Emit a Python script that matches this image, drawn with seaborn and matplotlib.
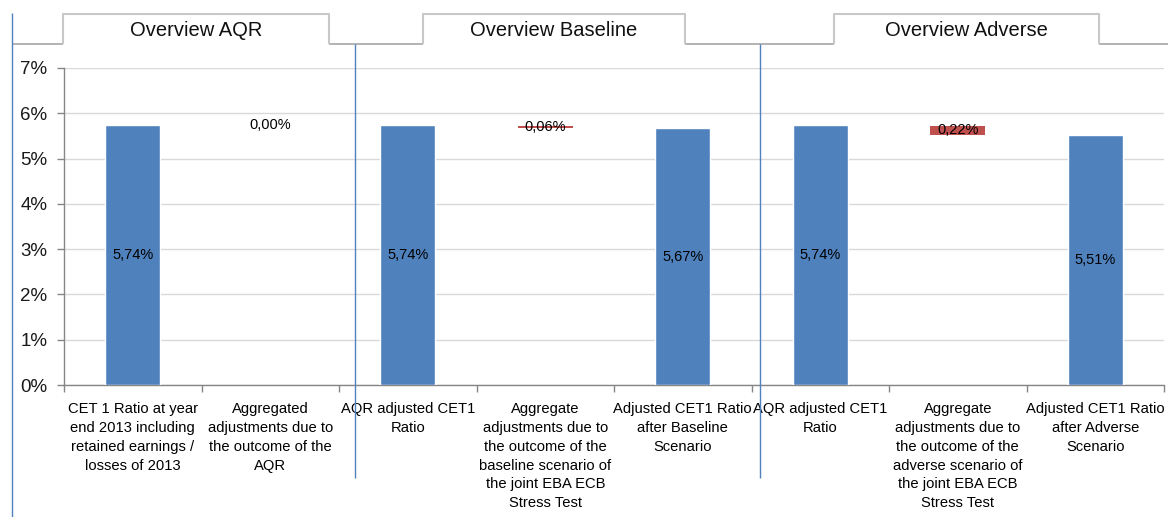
import matplotlib
matplotlib.use("Agg")
import matplotlib.pyplot as plt
from matplotlib.lines import Line2D
import numpy as np
import pandas as pd
import seaborn as sns

# ---- data -------------------------------------------------------------
categories = [
    "CET 1 Ratio at year\nend 2013 including\nretained earnings /\nlosses of 2013",
    "Aggregated\nadjustments due to\nthe outcome of the\nAQR",
    "AQR adjusted CET1\nRatio",
    "Aggregate\nadjustments due to\nthe outcome of the\nbaseline scenario of\nthe joint EBA ECB\nStress Test",
    "Adjusted CET1 Ratio\nafter Baseline\nScenario",
    "AQR adjusted CET1\nRatio",
    "Aggregate\nadjustments due to\nthe outcome of the\nadverse scenario of\nthe joint EBA ECB\nStress Test",
    "Adjusted CET1 Ratio\nafter Adverse\nScenario",
]
ratio_values = [5.74, np.nan, 5.74, np.nan, 5.67, 5.74, np.nan, 5.51]
adjust_values = [np.nan, 0.00, np.nan, 0.06, np.nan, np.nan, 0.22, np.nan]
panel_titles = ["Overview AQR", "Overview Baseline", "Overview Adverse"]
y_ticks = [0, 1, 2, 3, 4, 5, 6, 7]

BLUE = "#4F81BD"
RED = "#C0504D"

# ---- figure -----------------------------------------------------------
sns.set_theme(style="white")
plt.rcParams["font.family"] = ["Liberation Sans", "DejaVu Sans"]

W, H = 1168, 517
fig = plt.figure(figsize=(W / 100, H / 100), dpi=100)
ax = fig.add_axes([64 / W, 1 - 385 / H, (1164 - 64) / W, (385 - 68) / H])

steps = list(range(len(categories)))
df = pd.DataFrame({"step": steps, "ratio": ratio_values, "adjust": adjust_values})

# Level bars
sns.barplot(data=df, x="step", y="ratio", order=steps, color=BLUE,
            saturation=1, width=0.4, ax=ax, zorder=3)

# Floating adjustment bars: they sit on top of the following level
adj = df.dropna(subset=["adjust"])
bases = [df["ratio"].iloc[i + 1] for i in adj["step"]]
ax.bar(adj["step"], adj["adjust"], bottom=bases, width=0.4, color=RED,
       linewidth=0, zorder=3)

def pct(v):
    return f"{v:.2f}%".replace(".", ",")

for s, v in zip(df["step"], df["ratio"]):
    if not np.isnan(v):
        ax.text(s, v / 2, pct(v), ha="center", va="center", fontsize=10.5,
                color="black", zorder=4)
for s, v, b in zip(adj["step"], adj["adjust"], bases):
    ax.text(s, b + v / 2, pct(v), ha="center", va="center", fontsize=10.5,
            color="black", zorder=4)

# Axes styling
ax.set_xlim(-0.5, len(categories) - 0.5)
ax.set_ylim(0, 7)
ax.set_yticks(y_ticks)
ax.set_yticklabels([f"{t}%" for t in y_ticks], fontsize=13.5, color="#1a1a1a")
ax.yaxis.grid(True, color="#D9D9D9", linewidth=1)
ax.set_axisbelow(True)
ax.set_xlabel("")
ax.set_ylabel("")

ax.set_xticks(steps)
ax.set_xticklabels(categories, fontsize=10.6, color="black", va="top")
for lbl in ax.get_xticklabels():
    lbl.set_linespacing(1.45)
ax.set_xticks(np.arange(-0.5, len(categories), 1), minor=True)
ax.tick_params(axis="x", which="major", length=0, pad=12)
ax.tick_params(axis="x", which="minor", length=5, width=1, color="#868686",
               direction="out", bottom=True)
ax.tick_params(axis="y", which="major", length=5, width=1, color="#868686",
               direction="out", left=True, pad=7)

for side in ("top", "right"):
    ax.spines[side].set_visible(False)
for side in ("left", "bottom"):
    ax.spines[side].set_color("#868686")
    ax.spines[side].set_linewidth(1)

# ---- header tabs and separators (pixel positions) --------------------
def fx(x):
    return x / W

def fy(y):
    return 1 - y / H

def seg(xs, ys, color, lw):
    fig.add_artist(Line2D([fx(x) for x in xs], [fy(y) for y in ys],
                          color=color, linewidth=lw, solid_capstyle="butt"))

tabs = [(63, 329), (423, 685), (834, 1099)]
tab_top, base_y = 14, 44

edges = [12] + [e for t in tabs for e in t] + [W]
for i in range(0, len(edges), 2):
    seg([edges[i], edges[i + 1]], [base_y, base_y], "#A6A6A6", 1.2)

for (x0, x1), title in zip(tabs, panel_titles):
    seg([x0, x0, x1, x1], [base_y, tab_top, tab_top, base_y], "#C8C8C8", 1.5)
    fig.text(fx((x0 + x1) / 2), fy(30), title, ha="center", va="center",
             fontsize=14.5, color="#111111")

seg([12, 12], [13, H], BLUE, 1.0)
seg([355, 355], [44, 478], BLUE, 1.0)
seg([760, 760], [44, 478], BLUE, 1.0)

fig.savefig("out.png", dpi=100, facecolor="white")
